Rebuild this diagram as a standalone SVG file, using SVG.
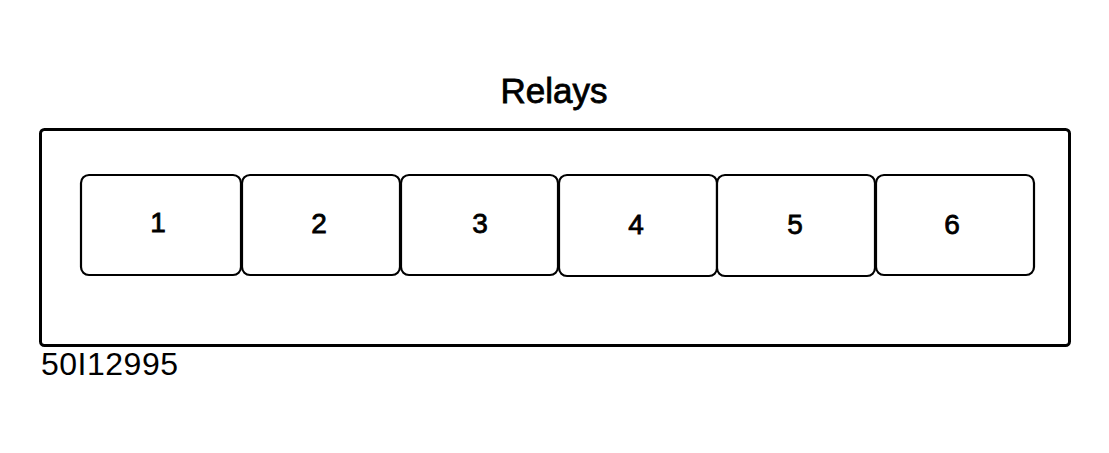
<svg xmlns="http://www.w3.org/2000/svg" width="1109" height="453" viewBox="0 0 1109 453">
<style>
.relay{fill:#fff;stroke:#000;stroke-width:2.2}
.num{font-family:"Liberation Sans",Arial,sans-serif;font-size:28px;text-anchor:middle;fill:#000;stroke:#000;stroke-width:0.8}
</style>
<rect width="1109" height="453" fill="#fff"/>
<text x="554" y="103" font-family="Liberation Sans, Arial, sans-serif" font-size="35" text-anchor="middle" stroke="#000" stroke-width="0.8">Relays</text>
<g id="housing"><rect x="40.5" y="129.5" width="1029" height="216" rx="4" fill="none" stroke="#000" stroke-width="3"/></g>
<g id="relay1"><rect class="relay" x="81" y="175" width="160" height="100" rx="8"/><text class="num" x="158" y="232">1</text></g>
<g id="relay2"><rect class="relay" x="242" y="175" width="158" height="100" rx="8"/><text class="num" x="319" y="233">2</text></g>
<g id="relay3"><rect class="relay" x="401" y="175" width="157" height="100" rx="8"/><text class="num" x="480" y="233">3</text></g>
<g id="relay4"><rect class="relay" x="559" y="175" width="158" height="101" rx="8"/><text class="num" x="636" y="234">4</text></g>
<g id="relay5"><rect class="relay" x="717" y="175" width="158" height="101" rx="8"/><text class="num" x="795" y="234">5</text></g>
<g id="relay6"><rect class="relay" x="876" y="175" width="158" height="100" rx="8"/><text class="num" x="952" y="234">6</text></g>
<text x="41" y="375" font-family="Liberation Sans, Arial, sans-serif" font-size="32" letter-spacing="0.5">50I12995</text>
</svg>
